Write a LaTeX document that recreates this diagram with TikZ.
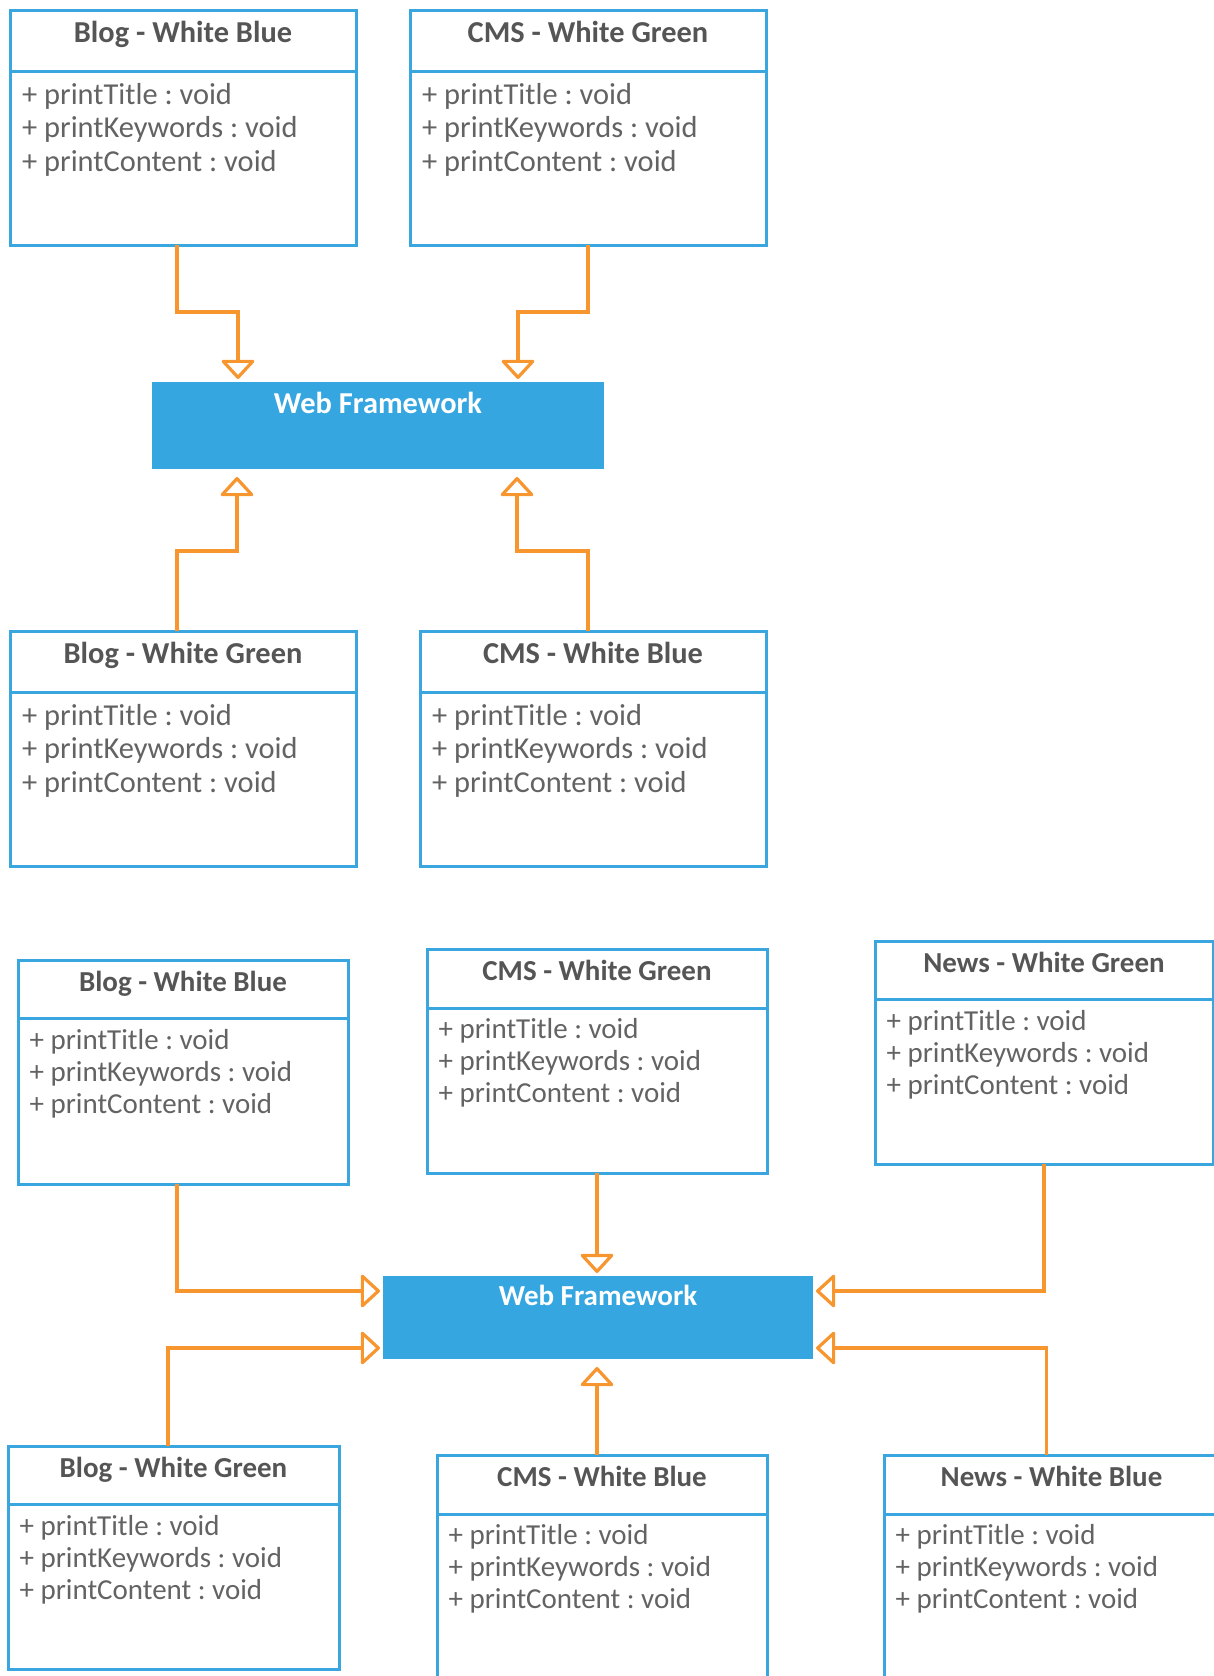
\documentclass[tikz,border=0pt]{standalone}
\usepackage{fontspec}
\setmainfont{Carlito}
\usetikzlibrary{arrows.meta,calc}
\definecolor{umlblue}{HTML}{3AA6DF}
\definecolor{wfblue}{HTML}{36A6E1}
\definecolor{inhor}{HTML}{F7952F}
\definecolor{txtgray}{HTML}{555555}
\definecolor{bodygray}{HTML}{636363}
\frenchspacing

\tikzset{
  clsbox/.style={draw=umlblue, line width=3pt, fill=white, inner sep=0pt, outer sep=0pt},
  clsline/.style={draw=umlblue, line width=3pt},
  clstitle/.style={anchor=base, inner sep=0pt, text=txtgray},
  clsbody/.style={anchor=base west, inner sep=0pt, text=bodygray},
  wfbox/.style={fill=wfblue, draw=none, inner sep=0pt, outer sep=0pt},
  wftext/.style={anchor=base, inner sep=0pt, text=white},
  inh/.style={draw=inhor, line width=3.2pt, -{Triangle[open, length=20pt, width=36pt, line join=round]}, shorten >=3pt},
}

\newcommand\umlbox[8]{%
  \pgfmathsetmacro\umlfs{30.4*#7}%
  \pgfmathsetmacro\umlty{-32.7*#7}%
  \pgfmathsetmacro\umlla{-94*#7}%
  \pgfmathsetmacro\umllb{-127.5*#7}%
  \pgfmathsetmacro\umllc{-161*#7}%
  \pgfmathsetmacro\umlpx{12*#7}%
  \node[clsbox, minimum width=#4pt, minimum height=#5pt, anchor=north west] (#1) at (#2,#3) {};
  \draw[clsline] ([yshift=-#6pt]#1.north west) -- ([yshift=-#6pt]#1.north east);
  \node[clstitle, font=\fontsize{\umlfs pt}{\umlfs pt}\selectfont\bfseries] (#1-t) at ([yshift=\umlty pt]#1.north) {#8};
  \node[clsbody, font=\fontsize{\umlfs pt}{\umlfs pt}\selectfont] (#1-a) at ([xshift=\umlpx pt, yshift=\umlla pt]#1.north west) {+ printTitle : void};
  \node[clsbody, font=\fontsize{\umlfs pt}{\umlfs pt}\selectfont] (#1-b) at ([xshift=\umlpx pt, yshift=\umllb pt]#1.north west) {+ printKeywords : void};
  \node[clsbody, font=\fontsize{\umlfs pt}{\umlfs pt}\selectfont] (#1-c) at ([xshift=\umlpx pt, yshift=\umllc pt]#1.north west) {+ printContent : void};
}

\begin{document}
\begin{tikzpicture}[x=1pt, y=-1pt]
\useasboundingbox (0,0) rectangle (1214,1676);
\clip (0,0) rectangle (1214,1676);

% ---------- Section 1 ----------
\umlbox{B1}{10}{10}{346}{235}{61}{1}{Blog - White Blue}
\umlbox{C1}{410}{10}{356}{235}{61}{1}{CMS - White Green}
\node[wfbox, minimum width=452pt, minimum height=87pt, anchor=north west] (W1) at (152,382) {};
\node[wftext, font=\fontsize{30.4pt}{30.4pt}\selectfont\bfseries] (W1-t) at ([yshift=-31pt]W1.north) {Web Framework};
\umlbox{B2}{10}{631}{346}{235}{61}{1}{Blog - White Green}
\umlbox{C2}{420}{631}{346}{235}{61}{1}{CMS - White Blue}

\draw[inh] ([xshift=-6pt]B1.south) -- ++(0,67) -| ([xshift=-140pt]W1.north);
\draw[inh] (C1.south) -- ++(0,67) -| ([xshift=140pt]W1.north);
\draw[inh, shorten >=8pt] ([xshift=-6pt]B2.north) -- ++(0,-80) -| ([xshift=-141pt]W1.south);
\draw[inh, shorten >=8pt] ([xshift=-5pt]C2.north) -- ++(0,-80) -| ([xshift=139pt]W1.south);

% ---------- Section 2 ----------
\umlbox{B3}{18}{960}{330}{224}{58}{0.953}{Blog - White Blue}
\umlbox{C3}{427}{949}{340}{224}{59}{0.953}{CMS - White Green}
\umlbox{N1}{875}{941}{338}{223}{58}{0.953}{News - White Green}
\node[wfbox, minimum width=430pt, minimum height=83pt, anchor=north west] (W2) at (383,1276) {};
\node[wftext, font=\fontsize{29pt}{29pt}\selectfont\bfseries] (W2-t) at ([yshift=-29pt]W2.north) {Web Framework};
\umlbox{B4}{8}{1446}{331}{223}{58}{0.953}{Blog - White Green}
\umlbox{C4}{437}{1455}{330}{240}{59}{0.953}{CMS - White Blue}
\umlbox{N2}{884}{1455}{335}{240}{59}{0.953}{News - White Blue}

\draw[inh] ([xshift=-6pt]B3.south) |- ([yshift=26.5pt]W2.west);
\draw[inh] (C3.south) -- (C3.south |- W2.north);
\draw[inh] (N1.south) |- ([yshift=26.5pt]W2.east);
\draw[inh] ([xshift=-5.5pt]B4.north) |- ([yshift=-30.5pt]W2.west);
\draw[inh, shorten >=8pt] ([xshift=-5pt]C4.north) -- ([xshift=-5pt]C4.north |- W2.south);
\draw[inh] ([xshift=-5pt]N2.north) |- ([yshift=-30.5pt]W2.east);
\end{tikzpicture}
\end{document}
